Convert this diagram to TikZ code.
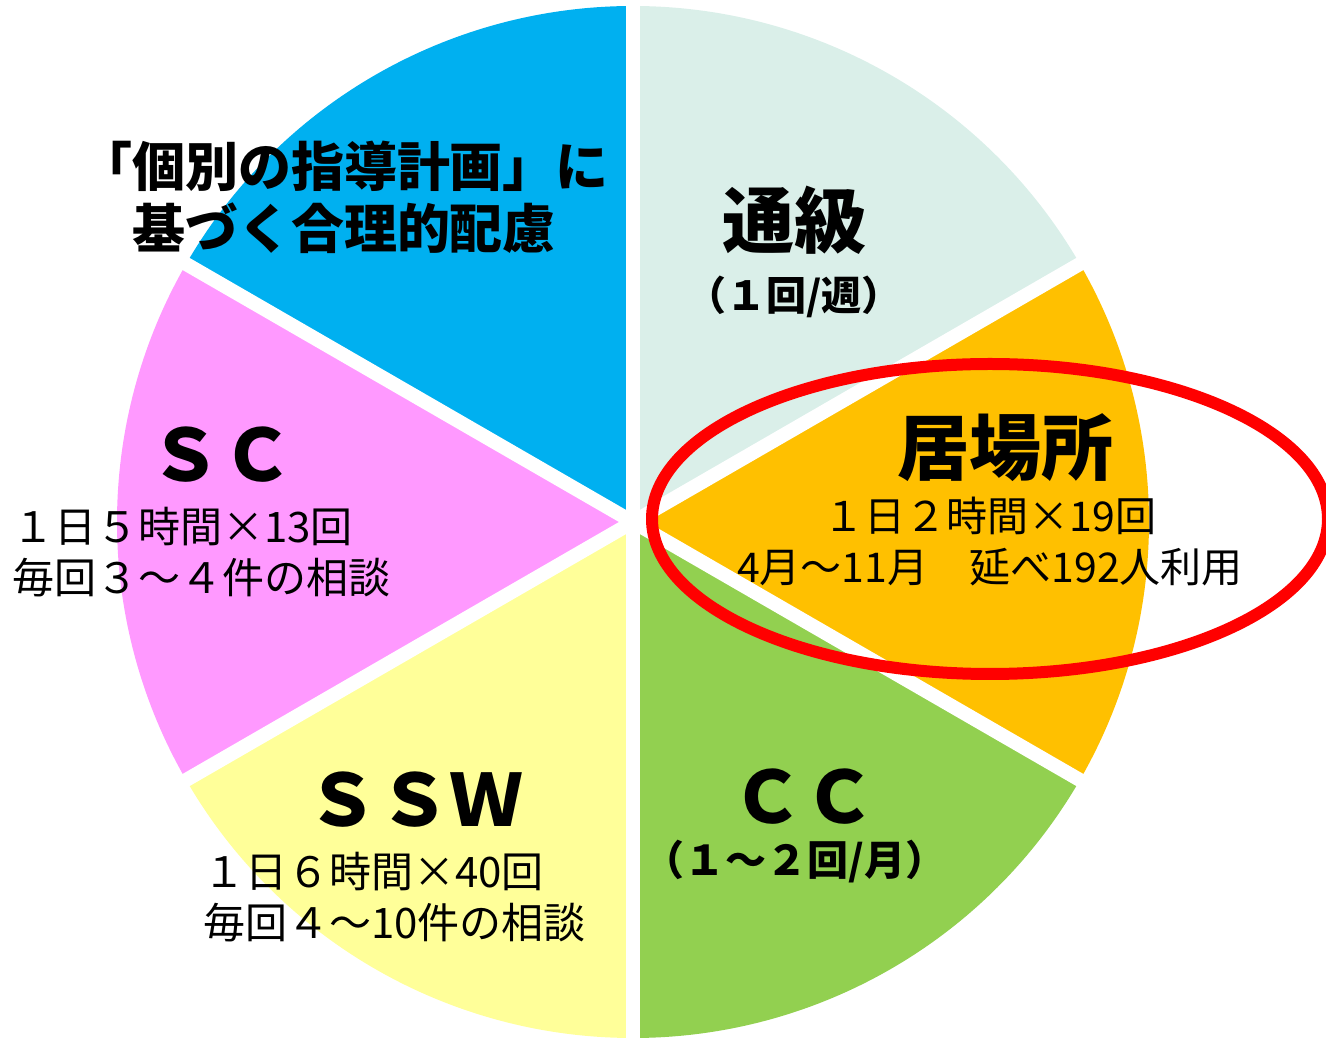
\documentclass[tikz,border=0pt]{standalone}
\usepackage{fontspec}
\setmainfont{Noto Sans CJK JP}
\usetikzlibrary{positioning}
\definecolor{pieblue}{RGB}{0,176,240}
\definecolor{pieteal}{RGB}{218,239,233}
\definecolor{pieorange}{RGB}{255,192,0}
\definecolor{piegreen}{RGB}{146,208,80}
\definecolor{pieyellow}{RGB}{255,255,153}
\definecolor{piepink}{RGB}{255,153,255}
\begin{document}
\begin{tikzpicture}
	[	x=1pt,y=1pt,							% 1 единица = 1 px
		head/.style={inner sep=0pt,font=\bfseries\fontsize{72}{78}\selectfont},		% заголовок сектора
		sub/.style={inner sep=0pt,font=\bfseries\fontsize{40}{46}\selectfont},			% подпись в скобках
		txt/.style={inner sep=0pt,align=left,font=\fontsize{42}{51}\selectfont}	]	% две строки текста
	\useasboundingbox (0,0) rectangle (1326,1042);
	\coordinate (ctr) at (633,520);										% центр круга
	\foreach \a/\col in {90/pieblue,150/piepink,210/pieyellow,270/piegreen,330/pieorange,30/pieteal}
		\fill[\col] (ctr) -- +(\a:516) arc[start angle=\a,delta angle=60,radius=516] -- cycle;
	\foreach \a in {90,30,-30}
		\draw[white,line width=14pt] (ctr) +(\a:530) -- +(\a+180:530);		% белые зазоры
	\draw[red,line width=12pt] (990,523) ellipse[x radius=338,y radius=155];	% овал
	\node[inner sep=0pt,align=center,font=\bfseries\fontsize{53}{62}\selectfont] (plan) at (344,845) {「個別の指導計画」に\\基づく合理的配慮};
	\node[head] (tsukyu) at (794,822) {通級};
	\node[sub] (tsukyuSub) at (794,745) {（１回/週）};
	\node[head] (ibasho) at (1005,594) {居場所};
	\node[inner sep=0pt,align=center,font=\fontsize{41}{51}\selectfont] (ibashoTxt) at (990,500) {１日２時間×19回\\4月～11月　延べ192人利用};
	\node[head] (sc) at (221,587) {ＳＣ};
	\node[txt,anchor=west] (scTxt) at (12,490) {１日５時間×13回\\毎回３～４件の相談};
	\node[head] (ssw) at (414,242) {ＳＳＷ};
	\node[txt,anchor=west] (sswTxt) at (203,145) {１日６時間×40回\\毎回４～10件の相談};
	\node[head] (cc) at (803,245) {ＣＣ};
	\node[sub,font=\bfseries\fontsize{41}{46}\selectfont] (ccSub) at (795,180) {（１～２回/月）};
\end{tikzpicture}
\end{document}
